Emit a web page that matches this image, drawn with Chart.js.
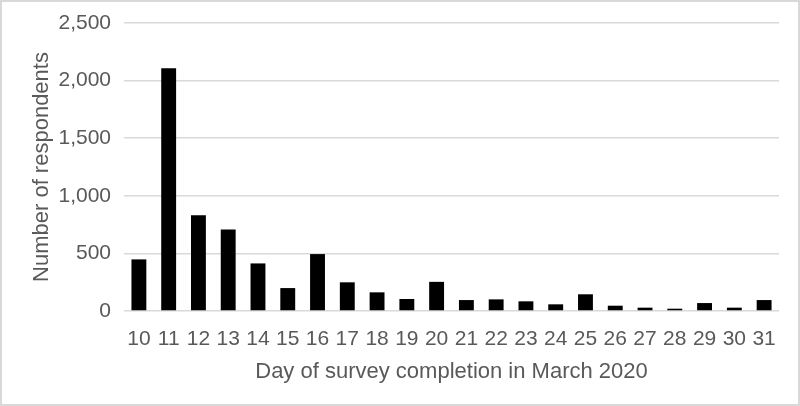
<!DOCTYPE html>
<html>
<head>
<meta charset="utf-8">
<script src="https://cdn.jsdelivr.net/npm/chart.js@4/dist/chart.umd.min.js"></script>
<style>
  html, body { margin: 0; padding: 0; background: #fff; }
  #wrap { width: 800px; height: 406px; box-sizing: border-box; border: 2px solid #d9d9d9; }
</style>
</head>
<body>
<div id="wrap"><canvas id="myChart"></canvas></div>
<script>
// days of March 2020 and respondents per day
let days = ['10','11','12','13','14','15','16','17','18','19','20','21','22','23','24','25','26','27','28','29','30','31'];
let respondents = [448, 2107, 832, 708, 413, 199, 494, 249, 162, 104, 253, 95, 101, 84, 58, 145, 46, 29, 20, 69, 29, 95];
let yTicks = [0, 500, 1000, 1500, 2000, 2500];

let textColor = '#595959';
let gridColor = '#d9d9d9';
let font = "'Liberation Sans', Arial, sans-serif";

let ctx = document.querySelector('#myChart').getContext('2d');

let myChart = new Chart(ctx, {
    type: 'bar',
    data: {
        labels: days,
        datasets: [{
            data: respondents,
            backgroundColor: '#000000',
            barPercentage: 0.5,
            categoryPercentage: 1.0
        }]
    },
    options: {
        responsive: true,
        maintainAspectRatio: false,
        animation: false,
        layout: { padding: { top: 0, right: 19, left: 27, bottom: 19 } },
        plugins: {
            legend: { display: false },
            tooltip: { enabled: false }
        },
        scales: {
            x: {
                grid: { display: false },
                border: { display: false },
                ticks: { color: textColor, font: { family: font, size: 21 }, padding: 8, maxRotation: 0, autoSkip: false },
                title: { display: true, text: 'Day of survey completion in March 2020', color: textColor, font: { family: font, size: 22 }, padding: { top: 0, bottom: 0 } },
                afterFit: s => { s.height = 74; }
            },
            y: {
                min: 0,
                max: 2500,
                afterBuildTicks: s => { s.ticks = yTicks.map(v => ({ value: v })); },
                grid: { color: gridColor, lineWidth: 1.5, drawTicks: false },
                border: { display: false },
                ticks: {
                    color: textColor,
                    font: { family: font, size: 21, lineHeight: 1.0 },
                    padding: 13,
                    callback: v => v.toLocaleString('en-US')
                },
                title: { display: true, text: 'Number of respondents', color: textColor, font: { family: font, size: 22 }, padding: { top: 0, bottom: 0 } },
                afterFit: s => { s.width = 95; s.paddingTop = 21; }
            }
        }
    }
});
</script>
</body>
</html>
